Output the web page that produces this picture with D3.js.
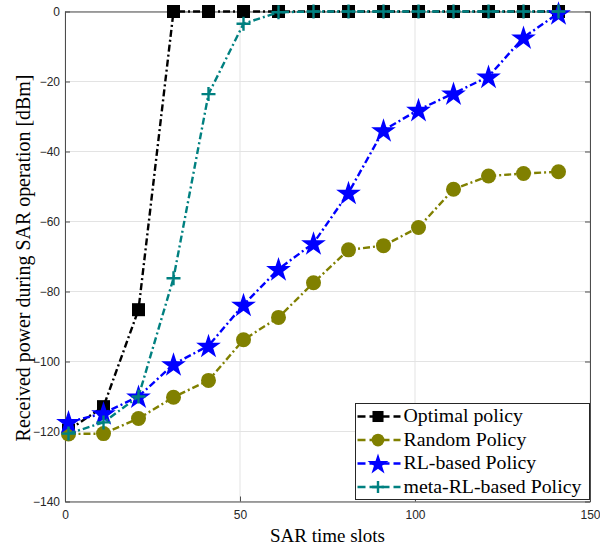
<!DOCTYPE html>
<html><head><meta charset="utf-8">
<script src="https://cdn.jsdelivr.net/npm/d3@7"></script>
<style>body{margin:0;background:#fff}</style>
</head><body>
<svg id="c" width="600" height="550"></svg>
<script>
const slots = [1,11,21,31,41,51,61,71,81,91,101,111,121,131,141];
const optimal = [-119.6,-112.9,-85.2,0,0,0,0,0,0,0,0,0,0,0,0];
const randomPolicy = [-120.7,-120.6,-116.3,-110.2,-105.4,-93.8,-87.4,-77.5,-68.1,-66.9,-61.7,-50.8,-47.0,-46.3,-45.8];
const rlPolicy = [-117.3,-114.8,-110.0,-100.8,-95.5,-83.8,-73.6,-66.2,-51.8,-33.9,-28.1,-23.4,-18.6,-7.4,-0.5];
const metaPolicy = [-120.6,-117.4,-110.0,-76.2,-23.6,-3.5,-0.2,0,0,0,0,0,0,0,0];
const xTicks = [0,50,100,150];
const yTicks = [0,-20,-40,-60,-80,-100,-120,-140];
const seriesNames = ["Optimal policy","Random Policy","RL-based Policy","meta-RL-based Policy"];
const seriesColors = ["#000000","#808000","#0000ff","#008080"];
const seriesMarkers = ["square","circle","star","plus"];
const seriesValues = [optimal, randomPolicy, rlPolicy, metaPolicy];

const svg = d3.select("#c");
const L = 65, R = 590, T = 11.5, B = 501.5;
const x = d3.scaleLinear().domain([0,150]).range([L,R]);
const y = d3.scaleLinear().domain([-140,0]).range([B,T]);
const serif = "'Liberation Serif', 'Times New Roman', serif";

function fitText(t, target){
  t.style("font-size","20px");
  const w = t.node().getComputedTextLength();
  t.style("font-size", (20*target/w).toFixed(2)+"px");
}

// grid
const g = svg.append("g");
g.selectAll(".gx").data(xTicks).enter().append("line")
  .attr("x1",d=>x(d)).attr("x2",d=>x(d)).attr("y1",T).attr("y2",B)
  .attr("stroke","#e3e3e3").attr("stroke-width",1);
g.selectAll(".gy").data(yTicks).enter().append("line")
  .attr("x1",L).attr("x2",R).attr("y1",d=>y(d)).attr("y2",d=>y(d))
  .attr("stroke","#e3e3e3").attr("stroke-width",1);

// axes
const axColor = "#4d4d4d";
const xAxis = svg.append("g").attr("transform",`translate(0,${B})`)
  .call(d3.axisBottom(x).tickValues(xTicks).tickSize(-5).tickPadding(9).tickSizeOuter(0));
const yAxis = svg.append("g").attr("transform",`translate(${L},0)`)
  .call(d3.axisLeft(y).tickValues(yTicks).tickSize(-5).tickPadding(5).tickSizeOuter(0));
const xTop = svg.append("g").attr("transform",`translate(0,${T})`)
  .call(d3.axisTop(x).tickValues(xTicks).tickSize(-5).tickFormat("").tickSizeOuter(0));
const yRight = svg.append("g").attr("transform",`translate(${R},0)`)
  .call(d3.axisRight(y).tickValues(yTicks).tickSize(-5).tickFormat("").tickSizeOuter(0));
[xAxis,yAxis,xTop,yRight].forEach(a=>{
  a.selectAll("path,line").attr("stroke",axColor).attr("stroke-width",1);
  a.selectAll("text").attr("fill","#262626").style("font-family","'Liberation Sans', Arial, sans-serif").style("font-size","12px");
});

// series
const line = d3.line().x(d=>x(d[0])).y(d=>y(d[1]));
function marker(sel, type, color, cx, cy, s){
  s = s || 1;
  if(type==="square"){
    sel.append("rect").attr("x",cx-6.5*s).attr("y",cy-6.5*s).attr("width",13*s).attr("height",13*s).attr("fill",color);
  } else if(type==="circle"){
    sel.append("circle").attr("cx",cx).attr("cy",cy).attr("r",7.5*s).attr("fill",color);
  } else if(type==="star"){
    sel.append("path").attr("d",d3.symbol().type(d3.symbolStar).size(190*s*s)()).attr("transform",`translate(${cx},${cy+1})`).attr("fill",color);
  } else if(type==="plus"){
    sel.append("path").attr("d",`M${cx-7*s},${cy}H${cx+7*s}M${cx},${cy-7*s}V${cy+7*s}`).attr("stroke",color).attr("stroke-width",2.4).attr("fill","none");
  }
}
seriesValues.forEach((vals,i)=>{
  const pts = slots.map((s,j)=>[s,vals[j]]);
  const sg = svg.append("g");
  sg.append("path").datum(pts).attr("d",line).attr("fill","none")
    .attr("stroke",seriesColors[i]).attr("stroke-width",2.4).attr("stroke-dasharray","7,3,2,3");
  pts.forEach(p=>marker(sg, seriesMarkers[i], seriesColors[i], x(p[0]), y(p[1])));
});

// legend
const lx = 355.5, ly = 403.5, lw = 234, lh = 96;
const lg = svg.append("g");
lg.append("rect").attr("x",lx).attr("y",ly).attr("width",lw).attr("height",lh).attr("fill","#fff").attr("stroke","#262626").attr("stroke-width",1);
const probe = lg.append("text").text(seriesNames[3]).style("font-family",serif);
fitText(probe, 178);
const legendSize = probe.style("font-size");
probe.remove();
seriesNames.forEach((n,i)=>{
  const yy = ly + 13 + i*23.5;
  lg.append("line").attr("x1",lx+2).attr("x2",lx+45).attr("y1",yy).attr("y2",yy)
    .attr("stroke",seriesColors[i]).attr("stroke-width",2.4).attr("stroke-dasharray","8,4");
  marker(lg, seriesMarkers[i], seriesColors[i], lx+22.5, yy, 0.85);
  lg.append("text").attr("x",lx+48).attr("y",yy+5.5).text(n)
    .style("font-family",serif).style("font-size",legendSize).attr("fill","#000");
});

// axis labels
const xl = svg.append("text").attr("x",(L+R)/2).attr("y",542).attr("text-anchor","middle")
  .text("SAR time slots").style("font-family",serif).attr("fill","#000");
fitText(xl, 115);
const yl = svg.append("text").attr("transform",`translate(30,258) rotate(-90)`).attr("text-anchor","middle")
  .text("Received power during SAR operation [dBm]").style("font-family",serif).attr("fill","#000");
fitText(yl, 367);
</script>
</body></html>
